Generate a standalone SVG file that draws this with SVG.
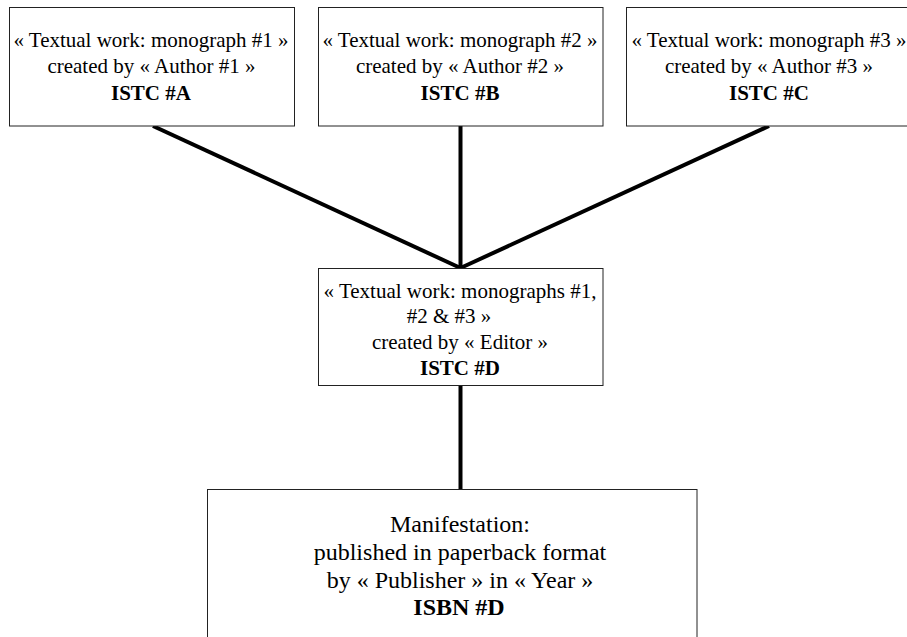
<svg xmlns="http://www.w3.org/2000/svg" width="907" height="637" viewBox="0 0 907 637">
  <style>
    .box { fill: #ffffff; stroke: #222222; stroke-width: 1; }
    .t { font-family: "Liberation Serif", "Times New Roman", serif; font-size: 21px; fill: #000000; text-anchor: middle; }
    .big { font-size: 24px; }
    .b { font-weight: bold; }
    .link { stroke: #000000; stroke-width: 4; fill: none; stroke-linecap: butt; }
  </style>
  <rect x="0" y="0" width="907" height="637" fill="#ffffff"/>

  <!-- connectors -->
  <g id="connectors">
    <line class="link" x1="153" y1="126" x2="460.5" y2="268"/>
    <line class="link" x1="460.5" y1="126" x2="460.5" y2="268"/>
    <line class="link" x1="769" y1="126" x2="460.5" y2="268"/>
    <line class="link" x1="460.5" y1="385" x2="460.5" y2="489.5"/>
  </g>

  <!-- textual work nodes -->
  <g id="istc-a">
    <rect class="box" x="9.5" y="7.5" width="285" height="118.5"/>
    <text class="t" x="151" y="47">« Textual work: monograph #1 »</text>
    <text class="t" x="151.5" y="73">created by « Author #1 »</text>
    <text class="t b" x="151" y="100">ISTC #A</text>
  </g>

  <g id="istc-b">
    <rect class="box" x="318.5" y="7.5" width="284.5" height="118.5"/>
    <text class="t" x="460" y="47">« Textual work: monograph #2 »</text>
    <text class="t" x="460" y="73">created by « Author #2 »</text>
    <text class="t b" x="460" y="100">ISTC #B</text>
  </g>

  <g id="istc-c">
    <rect class="box" x="626.5" y="7.5" width="290" height="118.5"/>
    <text class="t" x="769" y="47">« Textual work: monograph #3 »</text>
    <text class="t" x="769" y="73">created by « Author #3 »</text>
    <text class="t b" x="769" y="100">ISTC #C</text>
  </g>

  <g id="istc-d">
    <rect class="box" x="318.5" y="268.5" width="284.5" height="117"/>
    <text class="t" x="460" y="297.5">« Textual work: monographs #1,</text>
    <text class="t" x="449" y="323">#2 &amp; #3 »</text>
    <text class="t" x="460" y="348.5">created by « Editor »</text>
    <text class="t b" x="460" y="375">ISTC #D</text>
  </g>

  <!-- manifestation node -->
  <g id="isbn-d">
    <rect class="box" x="207.5" y="489.5" width="489.5" height="160"/>
    <text class="t big" x="460" y="532">Manifestation:</text>
    <text class="t big" x="460" y="560">published in paperback format</text>
    <text class="t big" x="460" y="587.5">by « Publisher » in « Year »</text>
    <text class="t big b" x="459" y="615">ISBN #D</text>
  </g>
</svg>
